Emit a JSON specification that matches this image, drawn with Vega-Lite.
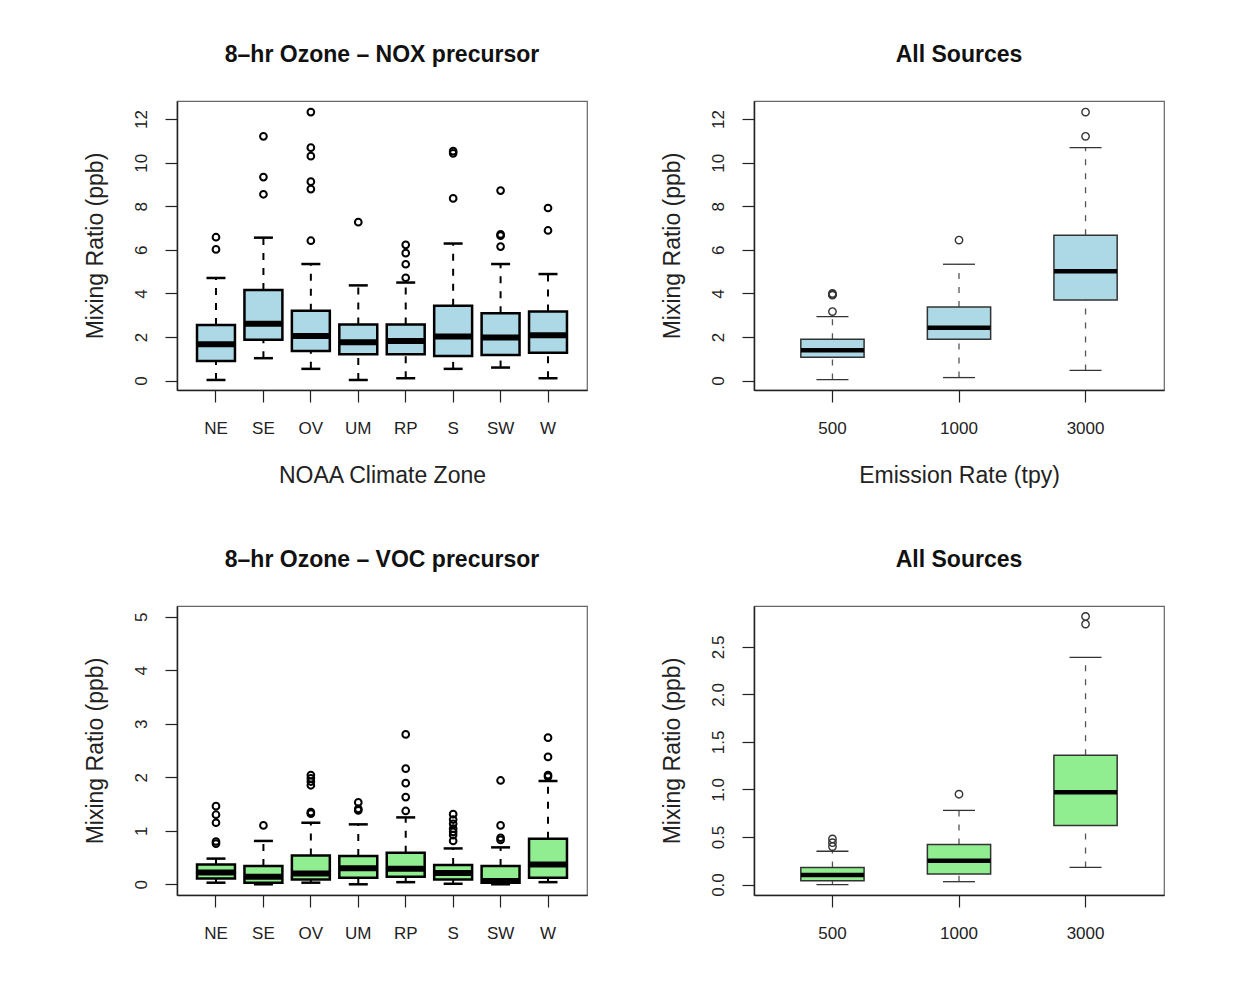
{
  "$schema": "https://vega.github.io/schema/vega-lite/v6.json",
  "background": "white",
  "padding": {"left": 83, "top": 43, "right": 5, "bottom": 5},
  "bounds": "flush",
  "columns": 2,
  "spacing": {"row": 216, "column": 167},
  "datasets": {
    "noxBox": [
      {"zone": "NE", "low": 0.03, "q1": 0.90, "median": 1.67, "q3": 2.55, "high": 4.71},
      {"zone": "SE", "low": 1.03, "q1": 1.87, "median": 2.61, "q3": 4.16, "high": 6.56},
      {"zone": "OV", "low": 0.54, "q1": 1.36, "median": 2.05, "q3": 3.21, "high": 5.35},
      {"zone": "UM", "low": 0.03, "q1": 1.21, "median": 1.76, "q3": 2.58, "high": 4.37},
      {"zone": "RP", "low": 0.11, "q1": 1.21, "median": 1.82, "q3": 2.58, "high": 4.50},
      {"zone": "S", "low": 0.54, "q1": 1.13, "median": 2.02, "q3": 3.44, "high": 6.29},
      {"zone": "SW", "low": 0.60, "q1": 1.18, "median": 1.98, "q3": 3.09, "high": 5.35},
      {"zone": "W", "low": 0.11, "q1": 1.28, "median": 2.08, "q3": 3.17, "high": 4.89}
    ],
    "noxOut": [
      {"zone": "NE", "value": 6.58}, {"zone": "NE", "value": 6.02},
      {"zone": "SE", "value": 11.21}, {"zone": "SE", "value": 9.34}, {"zone": "SE", "value": 8.55},
      {"zone": "OV", "value": 12.32}, {"zone": "OV", "value": 10.69}, {"zone": "OV", "value": 10.30}, {"zone": "OV", "value": 9.13}, {"zone": "OV", "value": 8.79}, {"zone": "OV", "value": 6.42},
      {"zone": "UM", "value": 7.27},
      {"zone": "RP", "value": 6.23}, {"zone": "RP", "value": 5.85}, {"zone": "RP", "value": 5.34}, {"zone": "RP", "value": 4.72},
      {"zone": "S", "value": 10.53}, {"zone": "S", "value": 10.43}, {"zone": "S", "value": 8.36},
      {"zone": "SW", "value": 8.72}, {"zone": "SW", "value": 6.71}, {"zone": "SW", "value": 6.65}, {"zone": "SW", "value": 6.15},
      {"zone": "W", "value": 7.92}, {"zone": "W", "value": 6.89}
    ],
    "allNoxBox": [
      {"rate": "500", "low": 0.05, "q1": 1.07, "median": 1.39, "q3": 1.90, "high": 2.94},
      {"rate": "1000", "low": 0.14, "q1": 1.90, "median": 2.43, "q3": 3.38, "high": 5.34},
      {"rate": "3000", "low": 0.47, "q1": 3.70, "median": 5.02, "q3": 6.67, "high": 10.69}
    ],
    "allNoxOut": [
      {"rate": "500", "value": 3.92}, {"rate": "500", "value": 3.96}, {"rate": "500", "value": 4.0}, {"rate": "500", "value": 3.17},
      {"rate": "1000", "value": 6.45},
      {"rate": "3000", "value": 12.32}, {"rate": "3000", "value": 11.21}
    ],
    "vocBox": [
      {"zone": "NE", "low": 0.03, "q1": 0.11, "median": 0.22, "q3": 0.37, "high": 0.48},
      {"zone": "SE", "low": 0.0, "q1": 0.03, "median": 0.14, "q3": 0.34, "high": 0.81},
      {"zone": "OV", "low": 0.03, "q1": 0.09, "median": 0.20, "q3": 0.54, "high": 1.15},
      {"zone": "UM", "low": 0.0, "q1": 0.12, "median": 0.30, "q3": 0.53, "high": 1.12},
      {"zone": "RP", "low": 0.04, "q1": 0.14, "median": 0.29, "q3": 0.59, "high": 1.25},
      {"zone": "S", "low": 0.01, "q1": 0.09, "median": 0.21, "q3": 0.36, "high": 0.67},
      {"zone": "SW", "low": 0.0, "q1": 0.03, "median": 0.06, "q3": 0.34, "high": 0.69},
      {"zone": "W", "low": 0.04, "q1": 0.12, "median": 0.37, "q3": 0.85, "high": 1.93}
    ],
    "vocOut": [
      {"zone": "NE", "value": 1.46}, {"zone": "NE", "value": 1.30}, {"zone": "NE", "value": 1.15}, {"zone": "NE", "value": 0.80}, {"zone": "NE", "value": 0.76},
      {"zone": "SE", "value": 1.10},
      {"zone": "OV", "value": 2.04}, {"zone": "OV", "value": 1.98}, {"zone": "OV", "value": 1.92}, {"zone": "OV", "value": 1.85}, {"zone": "OV", "value": 1.35}, {"zone": "OV", "value": 1.32},
      {"zone": "UM", "value": 1.53}, {"zone": "UM", "value": 1.41}, {"zone": "UM", "value": 1.38},
      {"zone": "RP", "value": 2.80}, {"zone": "RP", "value": 2.16}, {"zone": "RP", "value": 1.89}, {"zone": "RP", "value": 1.63}, {"zone": "RP", "value": 1.37},
      {"zone": "S", "value": 1.31}, {"zone": "S", "value": 1.21}, {"zone": "S", "value": 1.13}, {"zone": "S", "value": 1.04}, {"zone": "S", "value": 0.98}, {"zone": "S", "value": 0.92}, {"zone": "S", "value": 0.81},
      {"zone": "SW", "value": 1.94}, {"zone": "SW", "value": 1.10}, {"zone": "SW", "value": 0.87}, {"zone": "SW", "value": 0.83},
      {"zone": "W", "value": 2.74}, {"zone": "W", "value": 2.38}, {"zone": "W", "value": 2.04}, {"zone": "W", "value": 2.01}
    ],
    "allVocBox": [
      {"rate": "500", "low": 0.0, "q1": 0.04, "median": 0.10, "q3": 0.18, "high": 0.35},
      {"rate": "1000", "low": 0.03, "q1": 0.11, "median": 0.25, "q3": 0.42, "high": 0.78},
      {"rate": "3000", "low": 0.18, "q1": 0.62, "median": 0.97, "q3": 1.36, "high": 2.39}
    ],
    "allVocOut": [
      {"rate": "500", "value": 0.48}, {"rate": "500", "value": 0.44}, {"rate": "500", "value": 0.40},
      {"rate": "1000", "value": 0.95},
      {"rate": "3000", "value": 2.82}, {"rate": "3000", "value": 2.74}
    ]
  },
  "config": {
    "font": "Liberation Sans",
    "view": {"stroke": "#666", "strokeWidth": 1.2},
    "axis": {
      "grid": false, "domain": true, "domainColor": "#222", "domainWidth": 1.5,
      "tickColor": "#222", "tickSize": 12, "tickWidth": 1.2,
      "labelFont": "Liberation Sans", "labelFontSize": 17, "labelColor": "#222",
      "titleFont": "Liberation Sans", "titleFontSize": 23, "titleFontWeight": "normal", "titleColor": "#222"
    },
    "axisY": {"labelAngle": -90, "labelAlign": "center", "labelBaseline": "middle", "labelPadding": 24, "titleAngle": -90, "titleX": -82, "titleBaseline": "middle", "titleAlign": "center"},
    "axisX": {"labelAngle": 0, "labelAlign": "center", "labelBaseline": "middle", "labelPadding": 26, "titleY": 85, "titleBaseline": "middle"},
    "title": {"font": "Liberation Sans", "fontSize": 23, "fontWeight": "bold", "color": "#111", "frame": "group", "anchor": "middle", "baseline": "alphabetic", "offset": 34}
  },
  "concat": [
    {
      "width": 410, "height": 289,
      "title": "8–hr Ozone – NOX precursor",
      "encoding": {"x": {"field": "zone", "type": "nominal", "title": "NOAA Climate Zone", "scale": {"domain": ["NE","SE","OV","UM","RP","S","SW","W"], "paddingInner": 0.2, "paddingOuter": 0.422}}},
      "layer": [
        {"data": {"name": "noxBox"}, "mark": {"type": "rule", "color": "black", "strokeWidth": 2, "strokeDash": [7, 8]},
         "encoding": {"y": {"field": "low", "type": "quantitative", "title": "Mixing Ratio (ppb)", "scale": {"domain": [-0.43, 12.83], "nice": false, "zero": false}, "axis": {"values": [0,2,4,6,8,10,12], "format": "d"}}, "y2": {"field": "q1"}}},
        {"data": {"name": "noxBox"}, "mark": {"type": "rule", "color": "black", "strokeWidth": 2, "strokeDash": [7, 8]},
         "encoding": {"y": {"field": "q3", "type": "quantitative", "title": "Mixing Ratio (ppb)", "scale": {"domain": [-0.43, 12.83], "nice": false, "zero": false}, "axis": {"values": [0,2,4,6,8,10,12], "format": "d"}}, "y2": {"field": "high"}}},
        {"data": {"name": "noxBox"}, "mark": {"type": "bar", "fill": "#ADD8E6", "stroke": "black", "strokeWidth": 2.5},
         "encoding": {"y": {"field": "q1", "type": "quantitative", "title": "Mixing Ratio (ppb)", "scale": {"domain": [-0.43, 12.83], "nice": false, "zero": false}, "axis": {"values": [0,2,4,6,8,10,12], "format": "d"}}, "y2": {"field": "q3"}}},
        {"data": {"name": "noxBox"}, "mark": {"type": "tick", "color": "black", "size": 38, "thickness": 6, "opacity": 1},
         "encoding": {"y": {"field": "median", "type": "quantitative", "title": "Mixing Ratio (ppb)", "scale": {"domain": [-0.43, 12.83], "nice": false, "zero": false}, "axis": {"values": [0,2,4,6,8,10,12], "format": "d"}}}},
        {"data": {"name": "noxBox"}, "mark": {"type": "tick", "color": "black", "size": 19, "thickness": 2.5, "opacity": 1},
         "encoding": {"y": {"field": "low", "type": "quantitative", "title": "Mixing Ratio (ppb)", "scale": {"domain": [-0.43, 12.83], "nice": false, "zero": false}, "axis": {"values": [0,2,4,6,8,10,12], "format": "d"}}}},
        {"data": {"name": "noxBox"}, "mark": {"type": "tick", "color": "black", "size": 19, "thickness": 2.5, "opacity": 1},
         "encoding": {"y": {"field": "high", "type": "quantitative", "title": "Mixing Ratio (ppb)", "scale": {"domain": [-0.43, 12.83], "nice": false, "zero": false}, "axis": {"values": [0,2,4,6,8,10,12], "format": "d"}}}},
        {"data": {"name": "noxOut"}, "mark": {"type": "point", "shape": "circle", "filled": false, "color": "black", "strokeWidth": 2, "size": 45, "opacity": 1},
         "encoding": {"y": {"field": "value", "type": "quantitative", "title": "Mixing Ratio (ppb)", "scale": {"domain": [-0.43, 12.83], "nice": false, "zero": false}, "axis": {"values": [0,2,4,6,8,10,12], "format": "d"}}}}
      ]
    },
    {
      "width": 410, "height": 289,
      "title": "All Sources",
      "encoding": {"x": {"field": "rate", "type": "nominal", "title": "Emission Rate (tpy)", "scale": {"domain": ["500","1000","3000"], "paddingInner": 0.5, "paddingOuter": 0.37}}},
      "layer": [
        {"data": {"name": "allNoxBox"}, "mark": {"type": "rule", "color": "#555", "strokeWidth": 1.3, "strokeDash": [6, 8]},
         "encoding": {"y": {"field": "low", "type": "quantitative", "title": "Mixing Ratio (ppb)", "scale": {"domain": [-0.43, 12.83], "nice": false, "zero": false}, "axis": {"values": [0,2,4,6,8,10,12], "format": "d"}}, "y2": {"field": "q1"}}},
        {"data": {"name": "allNoxBox"}, "mark": {"type": "rule", "color": "#555", "strokeWidth": 1.3, "strokeDash": [6, 8]},
         "encoding": {"y": {"field": "q3", "type": "quantitative", "title": "Mixing Ratio (ppb)", "scale": {"domain": [-0.43, 12.83], "nice": false, "zero": false}, "axis": {"values": [0,2,4,6,8,10,12], "format": "d"}}, "y2": {"field": "high"}}},
        {"data": {"name": "allNoxBox"}, "mark": {"type": "bar", "fill": "#ADD8E6", "stroke": "#333", "strokeWidth": 1.5},
         "encoding": {"y": {"field": "q1", "type": "quantitative", "title": "Mixing Ratio (ppb)", "scale": {"domain": [-0.43, 12.83], "nice": false, "zero": false}, "axis": {"values": [0,2,4,6,8,10,12], "format": "d"}}, "y2": {"field": "q3"}}},
        {"data": {"name": "allNoxBox"}, "mark": {"type": "tick", "color": "black", "size": 63, "thickness": 4.5, "opacity": 1},
         "encoding": {"y": {"field": "median", "type": "quantitative", "title": "Mixing Ratio (ppb)", "scale": {"domain": [-0.43, 12.83], "nice": false, "zero": false}, "axis": {"values": [0,2,4,6,8,10,12], "format": "d"}}}},
        {"data": {"name": "allNoxBox"}, "mark": {"type": "tick", "color": "#333", "size": 32, "thickness": 1.3, "opacity": 1},
         "encoding": {"y": {"field": "low", "type": "quantitative", "title": "Mixing Ratio (ppb)", "scale": {"domain": [-0.43, 12.83], "nice": false, "zero": false}, "axis": {"values": [0,2,4,6,8,10,12], "format": "d"}}}},
        {"data": {"name": "allNoxBox"}, "mark": {"type": "tick", "color": "#333", "size": 32, "thickness": 1.3, "opacity": 1},
         "encoding": {"y": {"field": "high", "type": "quantitative", "title": "Mixing Ratio (ppb)", "scale": {"domain": [-0.43, 12.83], "nice": false, "zero": false}, "axis": {"values": [0,2,4,6,8,10,12], "format": "d"}}}},
        {"data": {"name": "allNoxOut"}, "mark": {"type": "point", "shape": "circle", "filled": false, "color": "#333", "strokeWidth": 1.4, "size": 55, "opacity": 1},
         "encoding": {"y": {"field": "value", "type": "quantitative", "title": "Mixing Ratio (ppb)", "scale": {"domain": [-0.43, 12.83], "nice": false, "zero": false}, "axis": {"values": [0,2,4,6,8,10,12], "format": "d"}}}}
      ]
    },
    {
      "width": 410, "height": 289,
      "title": "8–hr Ozone – VOC precursor",
      "encoding": {"x": {"field": "zone", "type": "nominal", "title": null, "scale": {"domain": ["NE","SE","OV","UM","RP","S","SW","W"], "paddingInner": 0.2, "paddingOuter": 0.422}}},
      "layer": [
        {"data": {"name": "vocBox"}, "mark": {"type": "rule", "color": "black", "strokeWidth": 2, "strokeDash": [7, 8]},
         "encoding": {"y": {"field": "low", "type": "quantitative", "title": "Mixing Ratio (ppb)", "scale": {"domain": [-0.2, 5.2], "nice": false, "zero": false}, "axis": {"values": [0,1,2,3,4,5], "format": "d"}}, "y2": {"field": "q1"}}},
        {"data": {"name": "vocBox"}, "mark": {"type": "rule", "color": "black", "strokeWidth": 2, "strokeDash": [7, 8]},
         "encoding": {"y": {"field": "q3", "type": "quantitative", "title": "Mixing Ratio (ppb)", "scale": {"domain": [-0.2, 5.2], "nice": false, "zero": false}, "axis": {"values": [0,1,2,3,4,5], "format": "d"}}, "y2": {"field": "high"}}},
        {"data": {"name": "vocBox"}, "mark": {"type": "bar", "fill": "#90EE90", "stroke": "black", "strokeWidth": 2.5},
         "encoding": {"y": {"field": "q1", "type": "quantitative", "title": "Mixing Ratio (ppb)", "scale": {"domain": [-0.2, 5.2], "nice": false, "zero": false}, "axis": {"values": [0,1,2,3,4,5], "format": "d"}}, "y2": {"field": "q3"}}},
        {"data": {"name": "vocBox"}, "mark": {"type": "tick", "color": "black", "size": 38, "thickness": 6, "opacity": 1},
         "encoding": {"y": {"field": "median", "type": "quantitative", "title": "Mixing Ratio (ppb)", "scale": {"domain": [-0.2, 5.2], "nice": false, "zero": false}, "axis": {"values": [0,1,2,3,4,5], "format": "d"}}}},
        {"data": {"name": "vocBox"}, "mark": {"type": "tick", "color": "black", "size": 19, "thickness": 2.5, "opacity": 1},
         "encoding": {"y": {"field": "low", "type": "quantitative", "title": "Mixing Ratio (ppb)", "scale": {"domain": [-0.2, 5.2], "nice": false, "zero": false}, "axis": {"values": [0,1,2,3,4,5], "format": "d"}}}},
        {"data": {"name": "vocBox"}, "mark": {"type": "tick", "color": "black", "size": 19, "thickness": 2.5, "opacity": 1},
         "encoding": {"y": {"field": "high", "type": "quantitative", "title": "Mixing Ratio (ppb)", "scale": {"domain": [-0.2, 5.2], "nice": false, "zero": false}, "axis": {"values": [0,1,2,3,4,5], "format": "d"}}}},
        {"data": {"name": "vocOut"}, "mark": {"type": "point", "shape": "circle", "filled": false, "color": "black", "strokeWidth": 2, "size": 45, "opacity": 1},
         "encoding": {"y": {"field": "value", "type": "quantitative", "title": "Mixing Ratio (ppb)", "scale": {"domain": [-0.2, 5.2], "nice": false, "zero": false}, "axis": {"values": [0,1,2,3,4,5], "format": "d"}}}}
      ]
    },
    {
      "width": 410, "height": 289,
      "title": "All Sources",
      "encoding": {"x": {"field": "rate", "type": "nominal", "title": null, "scale": {"domain": ["500","1000","3000"], "paddingInner": 0.5, "paddingOuter": 0.37}}},
      "layer": [
        {"data": {"name": "allVocBox"}, "mark": {"type": "rule", "color": "#555", "strokeWidth": 1.3, "strokeDash": [6, 8]},
         "encoding": {"y": {"field": "low", "type": "quantitative", "title": "Mixing Ratio (ppb)", "scale": {"domain": [-0.11, 2.93], "nice": false, "zero": false}, "axis": {"values": [0,0.5,1,1.5,2,2.5], "format": ".1f"}}, "y2": {"field": "q1"}}},
        {"data": {"name": "allVocBox"}, "mark": {"type": "rule", "color": "#555", "strokeWidth": 1.3, "strokeDash": [6, 8]},
         "encoding": {"y": {"field": "q3", "type": "quantitative", "title": "Mixing Ratio (ppb)", "scale": {"domain": [-0.11, 2.93], "nice": false, "zero": false}, "axis": {"values": [0,0.5,1,1.5,2,2.5], "format": ".1f"}}, "y2": {"field": "high"}}},
        {"data": {"name": "allVocBox"}, "mark": {"type": "bar", "fill": "#90EE90", "stroke": "#333", "strokeWidth": 1.5},
         "encoding": {"y": {"field": "q1", "type": "quantitative", "title": "Mixing Ratio (ppb)", "scale": {"domain": [-0.11, 2.93], "nice": false, "zero": false}, "axis": {"values": [0,0.5,1,1.5,2,2.5], "format": ".1f"}}, "y2": {"field": "q3"}}},
        {"data": {"name": "allVocBox"}, "mark": {"type": "tick", "color": "black", "size": 63, "thickness": 4.5, "opacity": 1},
         "encoding": {"y": {"field": "median", "type": "quantitative", "title": "Mixing Ratio (ppb)", "scale": {"domain": [-0.11, 2.93], "nice": false, "zero": false}, "axis": {"values": [0,0.5,1,1.5,2,2.5], "format": ".1f"}}}},
        {"data": {"name": "allVocBox"}, "mark": {"type": "tick", "color": "#333", "size": 32, "thickness": 1.3, "opacity": 1},
         "encoding": {"y": {"field": "low", "type": "quantitative", "title": "Mixing Ratio (ppb)", "scale": {"domain": [-0.11, 2.93], "nice": false, "zero": false}, "axis": {"values": [0,0.5,1,1.5,2,2.5], "format": ".1f"}}}},
        {"data": {"name": "allVocBox"}, "mark": {"type": "tick", "color": "#333", "size": 32, "thickness": 1.3, "opacity": 1},
         "encoding": {"y": {"field": "high", "type": "quantitative", "title": "Mixing Ratio (ppb)", "scale": {"domain": [-0.11, 2.93], "nice": false, "zero": false}, "axis": {"values": [0,0.5,1,1.5,2,2.5], "format": ".1f"}}}},
        {"data": {"name": "allVocOut"}, "mark": {"type": "point", "shape": "circle", "filled": false, "color": "#333", "strokeWidth": 1.4, "size": 55, "opacity": 1},
         "encoding": {"y": {"field": "value", "type": "quantitative", "title": "Mixing Ratio (ppb)", "scale": {"domain": [-0.11, 2.93], "nice": false, "zero": false}, "axis": {"values": [0,0.5,1,1.5,2,2.5], "format": ".1f"}}}}
      ]
    }
  ]
}
